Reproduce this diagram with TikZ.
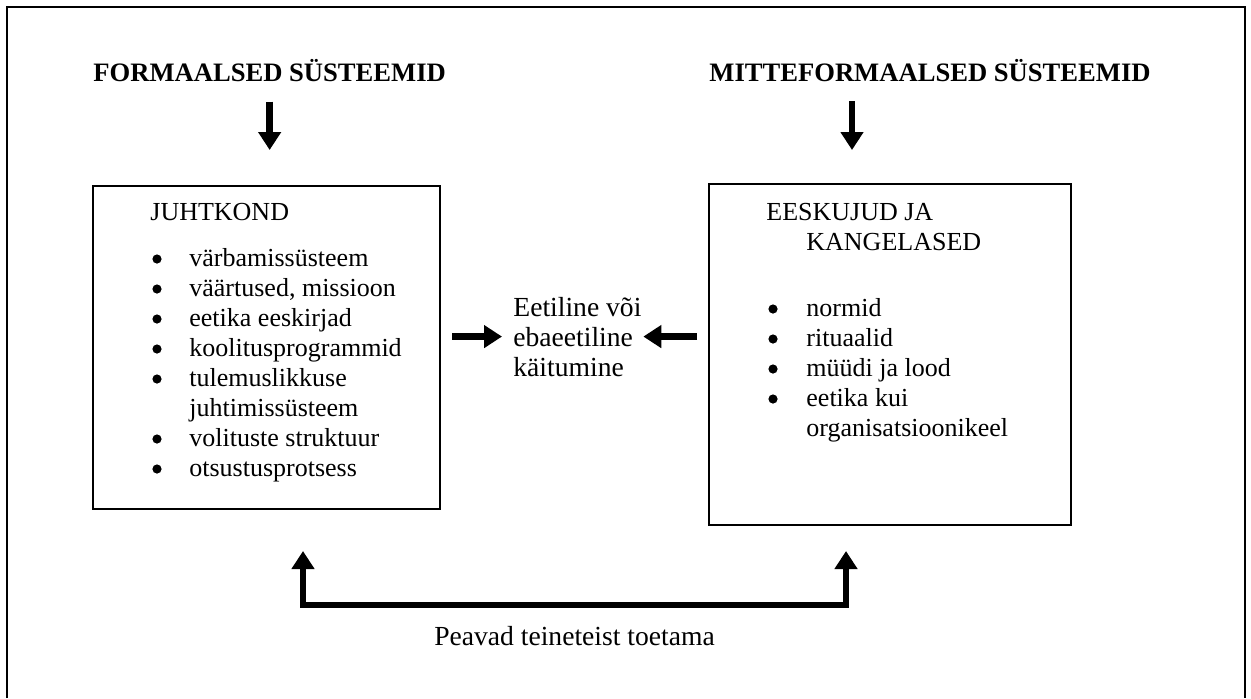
\documentclass[tikz,border=0pt]{standalone}
\usepackage{fontspec}
\setmainfont{Liberation Serif}
\usetikzlibrary{arrows.meta, positioning}
\tikzset{
  framebox/.style={rectangle, draw=black, line width=1pt, inner sep=0pt},
  headline/.style={font=\fontsize{13.3}{15}\selectfont\bfseries, inner sep=0pt},
  bodytext/.style={font=\fontsize{13}{14.5}\selectfont, inner sep=0pt},
  midtext/.style={font=\fontsize{13.8}{15}\selectfont, inner sep=0pt},
  bulletdot/.style={fill=black},
  fatarrow/.style={-{Triangle[width=11pt,length=9pt]}, line width=3.2pt, black},
  fatboth/.style={{Triangle[width=11pt,length=9pt]}-{Triangle[width=11pt,length=9pt]},
    line width=3.2pt, black, line join=miter}
}

\begin{document}
\begin{tikzpicture}[x=0.5pt, y=-0.5pt]
  \useasboundingbox (0,0) rectangle (1251,698);
  % Outer frame
  \draw[line width=1pt] (7,698) -- (7,7) -- (1245,7) -- (1245,698);
  % Headings
  \node[headline, anchor=base west] (ftitle) at (93,81) {FORMAALSED SÜSTEEMID};
  \node[headline, anchor=base west] (mtitle) at (709,81) {MITTEFORMAALSED SÜSTEEMID};
  % Boxes
  \node[framebox, anchor=north west, minimum width=173.5pt, minimum height=161.5pt] (lead) at (92,185) {};
  \node[framebox, anchor=north west, minimum width=181pt, minimum height=170.5pt] (ext) at (708,183) {};
  % Left box text
  \node[bodytext, anchor=base west] (leadhead) at (150,220) {JUHTKOND};
  \node[bodytext, anchor=base west] (lead1) at (189,266) {värbamissüsteem};
  \node[bodytext, anchor=base west] (lead2) at (189,296) {väärtused, missioon};
  \node[bodytext, anchor=base west] (lead3) at (189,326) {eetika eeskirjad};
  \node[bodytext, anchor=base west] (lead4) at (189,356) {koolitusprogrammid};
  \node[bodytext, anchor=base west] (lead5) at (189,386) {tulemuslikkuse};
  \node[bodytext, anchor=base west] (lead5b) at (189,416) {juhtimissüsteem};
  \node[bodytext, anchor=base west] (lead6) at (189,446) {volituste struktuur};
  \node[bodytext, anchor=base west] (lead7) at (189,476) {otsustusprotsess};
  \foreach \y in {266,296,326,356,386,446,476}
    \fill[bulletdot] (157,\y-7) circle[radius=2.3pt];
  % Right box text
  \node[bodytext, anchor=base west] (exthead) at (766,220) {EESKUJUD JA};
  \node[bodytext, anchor=base west] (exthead2) at (806,250) {KANGELASED};
  \node[bodytext, anchor=base west] (ext1) at (806,316) {normid};
  \node[bodytext, anchor=base west] (ext2) at (806,346) {rituaalid};
  \node[bodytext, anchor=base west] (ext3) at (806,376) {müüdi ja lood};
  \node[bodytext, anchor=base west] (ext4) at (806,406) {eetika kui};
  \node[bodytext, anchor=base west] (ext4b) at (806,436) {organisatsioonikeel};
  \foreach \y in {316,346,376,406}
    \fill[bulletdot] (773,\y-7) circle[radius=2.3pt];
  % Middle text
  \node[midtext, anchor=base west] (mid1) at (513,316) {Eetiline või};
  \node[midtext, anchor=base west] (mid2) at (513,346) {ebaeetiline};
  \node[midtext, anchor=base west] (mid3) at (513,376) {käitumine};
  % Arrows
  \coordinate (mdown) at (852,81);
  \draw[fatarrow, shorten <=10pt, shorten >=17.5pt] (ftitle.south) -- (ftitle.south |- lead.north);
  \draw[fatarrow, shorten <=10pt, shorten >=16.5pt] (mdown) -- (mdown |- ext.north);
  \draw[fatarrow, shorten <=5.5pt, shorten >=5.5pt] (lead.east |- mid2.west) -- (mid2.west);
  \draw[fatarrow, shorten <=5.5pt, shorten >=5pt] (ext.west |- mid2.east) -- (mid2.east);
  % Support link
  \coordinate (ltip) at (303,551);
  \coordinate (lfoot) at (303,605);
  \coordinate (rtip) at (846,551);
  \draw[fatboth] (ltip) -- (lfoot) -| (rtip);
  \node[midtext, anchor=base] (supp) at (574.5,645) {Peavad teineteist toetama};
\end{tikzpicture}
\end{document}
